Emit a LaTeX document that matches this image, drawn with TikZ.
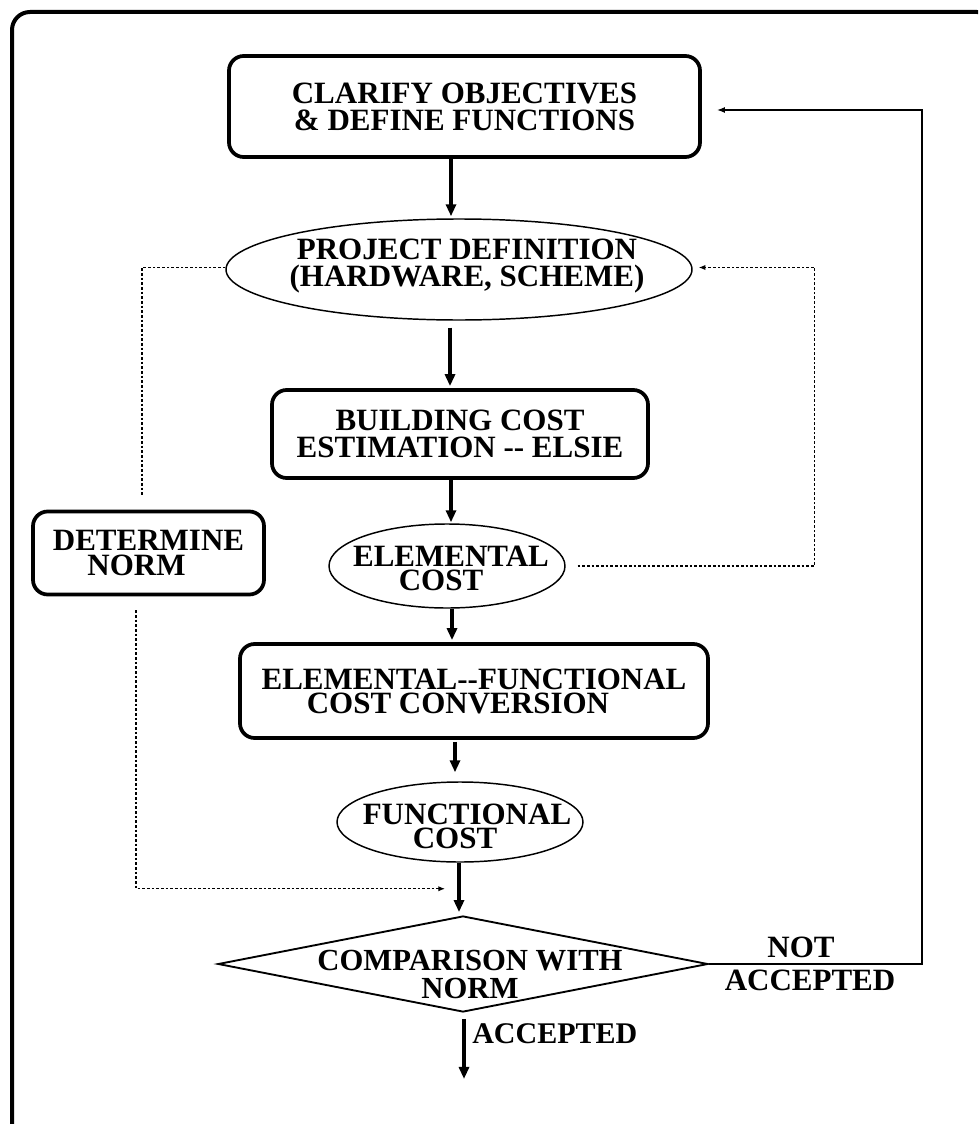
\documentclass[tikz,border=0pt]{standalone}
\usepackage{fontspec}
\setmainfont{Liberation Serif}
\usetikzlibrary{shapes.geometric,arrows.meta,calc}
\begin{document}
\begin{tikzpicture}[x=0.75pt,y=-0.75pt,
  lbl/.style={font=\bfseries\fontsize{23.25}{20}\selectfont, align=center, inner sep=0pt},
  rbox/.style={lbl, draw, line width=2.8pt, rounded corners=11pt},
  ellip/.style={draw, ellipse, line width=1.1pt, inner sep=0pt},
  decision/.style={draw, diamond, line width=1.4pt, inner sep=0pt},
  frame/.style={line width=3pt, rounded corners=13.5pt},
  flow/.style={line width=2.3pt, -{Triangle[length=9pt,width=7.5pt]}},
  dots/.style={line width=0.9pt, dash pattern=on 2pt off 1.5pt},
  dotarrow/.style={dots, -{Latex[length=5pt,width=4pt]}},
  feedback/.style={line width=1.3pt, -{Latex[length=6pt,width=4.5pt]}}]
\path[use as bounding box] (0,0) rectangle (978,1124);
\clip (0,0) rectangle (978,1124);
% outer frame
\draw[frame] (12,12) rectangle (995,1140);

% main flow
\node[rbox, minimum width=353.25pt, minimum height=75.75pt, font=\bfseries\fontsize{23.25}{20.25}\selectfont]
  (obj) at (464.5,106.5) {CLARIFY OBJECTIVES\\\& DEFINE FUNCTIONS};

\node[ellip, minimum width=349.5pt, minimum height=75.75pt] (proj) at (459,269.5) {};
\node[lbl, font=\bfseries\fontsize{23.25}{20.5}\selectfont] (projtxt) at (467,266) {PROJECT DEFINITION\\(HARDWARE, SCHEME)};

\node[rbox, minimum width=282pt, minimum height=66pt, font=\bfseries\fontsize{23.25}{20.5}\selectfont]
  (build) at (460,434) {BUILDING COST\\ESTIMATION -{}- ELSIE};

\node[ellip, minimum width=177pt, minimum height=63pt] (elem) at (447,566) {};
\node[lbl, font=\bfseries\fontsize{23.25}{18}\selectfont] (elemtxt) at (451,568.5) {ELEMENTAL\\COST\hspace*{15pt}};

\node[rbox, minimum width=173.25pt, minimum height=62.25pt, font=\bfseries\fontsize{23.25}{18.5}\selectfont]
  (norm) at (148.5,553) {DETERMINE\\NORM\hspace*{18pt}};

\node[rbox, minimum width=351pt, minimum height=70.5pt, font=\bfseries\fontsize{23.25}{18}\selectfont]
  (ef) at (474,691) {ELEMENTAL-{}-FUNCTIONAL\\COST CONVERSION\hspace*{24pt}};

\node[ellip, minimum width=184.5pt, minimum height=60pt] (fc) at (460,822) {};
\node[lbl, font=\bfseries\fontsize{23.25}{18}\selectfont] (fctxt) at (467,826) {FUNCTIONAL\\COST\hspace*{18pt}};

\node[decision, minimum width=367.5pt, minimum height=72pt] (cmp) at (463,964) {};
\node[lbl, font=\bfseries\fontsize{23}{21}\selectfont] (cmptxt) at (470,974) {COMPARISON WITH\\NORM};

% branch labels
\node[lbl, anchor=base] (notlbl) at (801,957) {NOT};
\node[lbl, anchor=base] (rejlbl) at (810,990) {ACCEPTED};
\node[lbl, anchor=base west, font=\bfseries\fontsize{22.5}{20}\selectfont] (acclbl) at (472,1043) {ACCEPTED};

% flow arrows
\draw[flow] ($(obj.south)+(-13.5,0)$) -- ($(proj.north)+(-8,-2)$);
\draw[flow] ($(proj.south)+(-9,7)$) -- ($(build.north)+(-10,-2)$);
\draw[flow] ($(build.south)+(-9,0)$) -- ($(elem.north)+(4,-1)$);
\draw[flow] ($(elem.south)+(5,0)$) -- ($(ef.north)+(-22,-2)$);
\draw[flow] ($(ef.south)+(-19,2)$) -- ($(fc.north)+(-5,-9)$);
\draw[flow] ($(fc.south)+(-1,0)$) -- ($(cmp.north)+(-4,-3)$);
\coordinate (exit) at ($(cmp.south)+(1,66)$);
\draw[flow] ($(cmp.south)+(1,6)$) -- (exit);

% dotted links
\draw[dots] ($(proj.west)+(0,-2)$) -| ($(norm.north)+(-6.5,-14)$);
\draw[dotarrow] ($(norm.south)+(-12.5,14)$) |- ($(fc.south)+(-15,26)$);
\draw[dotarrow] ($(elem.east)+(12,0)$) -| ($(proj.east)+(122,-2)$) -- ($(proj.east)+(6,-2)$);

% rejection loop
\draw[feedback] (cmp.east) -| ($(obj.east)+(220,3.5)$) -- ($(obj.east)+(15,3.5)$);
\end{tikzpicture}
\end{document}
